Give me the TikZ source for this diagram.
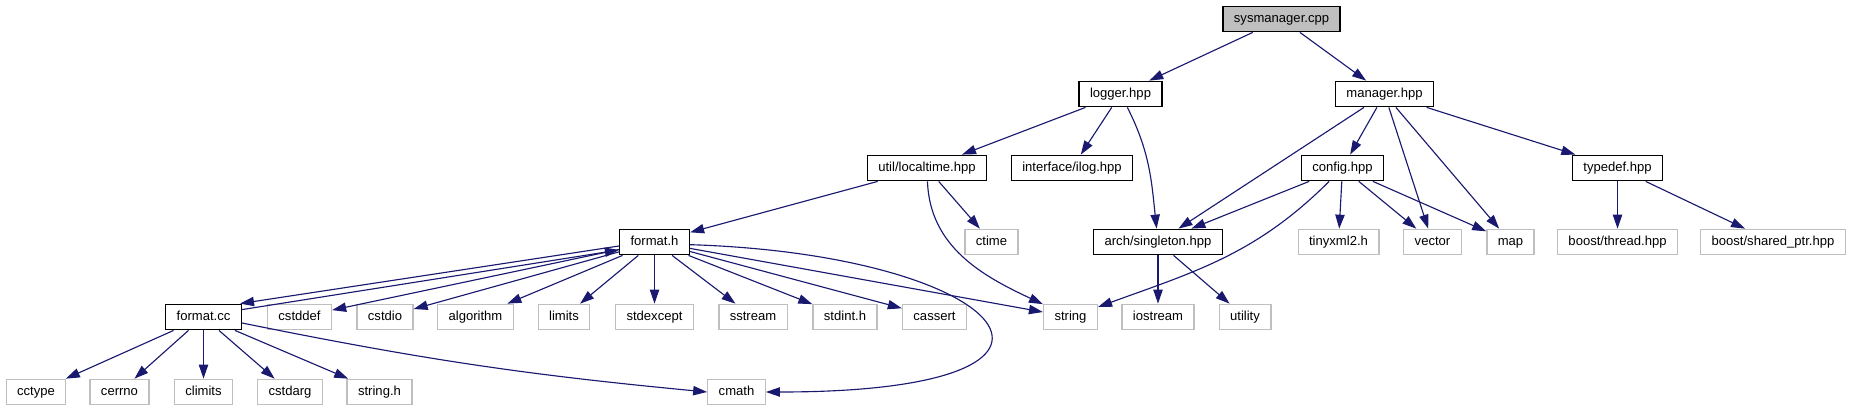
\documentclass[tikz,border=0pt]{standalone}
\usepackage{fontspec}
\setmainfont{Liberation Sans}
\usetikzlibrary{arrows.meta}
\definecolor{edgeblue}{HTML}{191970}
\definecolor{extgray}{HTML}{BFBFBF}
\begin{document}
\begin{tikzpicture}[x=0.75pt,y=-0.75pt,
  file/.style={draw=black,line width=1.1pt,inner xsep=8.2pt,inner ysep=0pt,minimum height=19pt,
    text height=7.2pt,text depth=2pt,font=\fontsize{9.8}{12}\selectfont},
  ext/.style={file,draw=extgray,line width=1pt},
  inc/.style={draw=edgeblue,line width=0.85pt,-{Triangle[length=10.5pt,width=7pt]}}]
\useasboundingbox (0,0) rectangle (1851,411);
\node[file,fill=extgray] (sysmgr) at (1281.5,19) {sysmanager.cpp};
\node[file] (logger) at (1120.5,94) {logger.hpp};
\node[file] (manager) at (1384.5,94) {manager.hpp};
\node[file] (localtime) at (927,168) {util/localtime.hpp};
\node[file] (ilog) at (1072,168) {interface/ilog.hpp};
\node[file] (config) at (1342.5,168) {config.hpp};
\node[file] (typedef) at (1617.5,168) {typedef.hpp};
\node[file] (formath) at (654.5,242) {format.h};
\node[ext] (ctime) at (991.5,242) {ctime};
\node[file] (singleton) at (1158,242) {arch/singleton.hpp};
\node[ext] (tinyxml) at (1338.5,242) {tinyxml2.h};
\node[ext] (vector) at (1432.5,242) {vector};
\node[ext] (map) at (1510.5,242) {map};
\node[ext] (bthread) at (1617.5,242) {boost/thread.hpp};
\node[ext] (bshared) at (1773,242) {boost/shared\_ptr.hpp};
\node[file] (formatcc) at (203.5,317) {format.cc};
\node[ext] (cstddef) at (299.5,317) {cstddef};
\node[ext] (cstdio) at (385,317) {cstdio};
\node[ext] (algorithm) at (475.5,317) {algorithm};
\node[ext] (limits) at (564,317) {limits};
\node[ext] (stdexcept) at (654.5,317) {stdexcept};
\node[ext] (sstream) at (753,317) {sstream};
\node[ext] (stdint) at (845,317) {stdint.h};
\node[ext] (cassert) at (934.5,317) {cassert};
\node[ext] (string) at (1070.5,317) {string};
\node[ext] (iostream) at (1158,317) {iostream};
\node[ext] (utility) at (1245,317) {utility};
\node[ext] (cctype) at (36,392) {cctype};
\node[ext] (cerrno) at (119.5,392) {cerrno};
\node[ext] (climits) at (203.5,392) {climits};
\node[ext] (cstdarg) at (290,392) {cstdarg};
\node[ext] (stringh) at (379.5,392) {string.h};
\node[ext] (cmath) at (736.5,392) {cmath};
\draw[inc] (sysmgr) -- (logger);
\draw[inc] (sysmgr) -- (manager);
\draw[inc] (logger) -- (localtime);
\draw[inc] (logger) -- (ilog);
\draw[inc] (logger) to[out=-63,in=96] (singleton);
\draw[inc] (manager) -- (singleton);
\draw[inc] (manager) -- (config);
\draw[inc] (manager) -- (vector);
\draw[inc] (manager) -- (map);
\draw[inc] (manager) -- (typedef);
\draw[inc] (localtime) -- (formath);
\draw[inc] (localtime) -- (ctime);
\draw[inc] (localtime) to[out=-88,in=155] (string);
\draw[inc] (config) -- (singleton);
\draw[inc] (config) to[out=-135,in=20] (string);
\draw[inc] (config) -- (tinyxml);
\draw[inc] (config) -- (vector);
\draw[inc] (config) -- (map);
\draw[inc] (typedef) -- (bthread);
\draw[inc] (typedef) -- (bshared);
\draw[inc] (singleton) -- (iostream);
\draw[inc] (singleton) -- (utility);
\draw[inc] ([yshift=-3pt]formath.west) -- ([xshift=-1.5pt]formatcc.north east);
\draw[inc] ([yshift=-4.5pt]formatcc.north east) -- ([yshift=-6pt]formath.west);
\draw[inc] (formath) -- (cstddef);
\draw[inc] (formath) -- (cstdio);
\draw[inc] (formath) -- (algorithm);
\draw[inc] (formath) -- (limits);
\draw[inc] (formath) -- (stdexcept);
\draw[inc] (formath) -- (sstream);
\draw[inc] (formath) -- (stdint);
\draw[inc] (formath) -- (cassert);
\draw[inc] (formath) -- (string);
\draw[inc] ([yshift=-2pt]formath.east) .. controls +(320,10) and +(364,0) .. (cmath.east);
\draw[inc] (formatcc) -- (cctype);
\draw[inc] (formatcc) -- (cerrno);
\draw[inc] (formatcc) -- (climits);
\draw[inc] (formatcc) -- (cstdarg);
\draw[inc] (formatcc) -- (stringh);
\draw[inc] ([yshift=-4.5pt]formatcc.east) to[bend right=3] (cmath.west);
\end{tikzpicture}
\end{document}
